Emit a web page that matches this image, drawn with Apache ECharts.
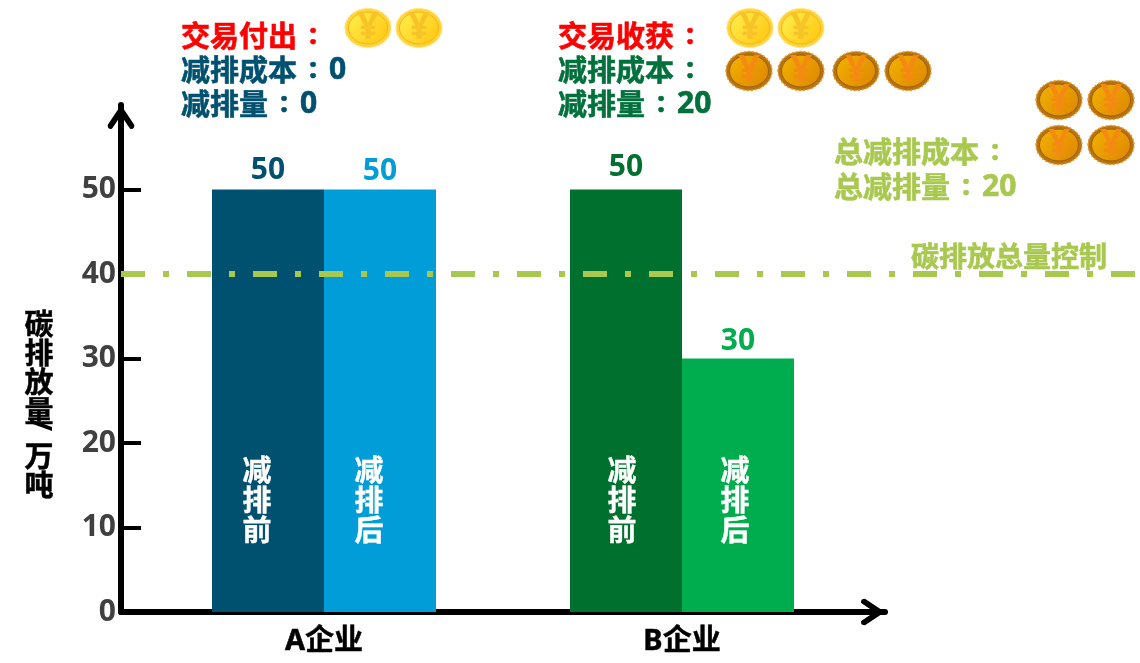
<!DOCTYPE html>
<html><head><meta charset="utf-8">
<style>html,body{margin:0;padding:0;background:#fff}#c{width:1140px;height:663px}</style>
<script src="https://cdn.jsdelivr.net/npm/echarts@6/dist/echarts.min.js"></script>
</head><body><div id="c"></div>
<script>
const companies = ['A企业', 'B企业'];
const before = [50, 50];
const after = [50, 30];
const cap = 40;
const yTicks = [0, 10, 20, 30, 40, 50];

const CJK = '"Noto Sans CJK SC",sans-serif';
const DIGIT = '"Noto Sans","Noto Sans CJK SC",sans-serif';
const C = {navy:'#00506F', sky:'#009DD9', dark:'#00702F', green:'#00AD4E', lime:'#A9C850', grey:'#404040', red:'#FF0000', darkText:'#00703C'};

const chevron = 'path://M12 0 L26 21 Q26 26 21.5 25 L12 11 L2.5 25 Q-2 26 -2 21 Z';

function line(x, y, main, digits, color) {
  const base = {fontWeight:'bold', fill:color, stroke:color, lineWidth:0.6};
  return {type:'text', x, y, z:20, style:{
    text:'{a|'+main+'}{c| : }'+(digits?'{d|'+digits+'}':''),
    rich:{a:{...base,fontFamily:CJK,fontSize:29},
          c:{...base,fontFamily:DIGIT,fontSize:29,width:32,align:'center'},
          d:{...base,fontFamily:DIGIT,fontSize:30}},
    verticalAlign:'middle', align:'left'}};
}
function vert(x, text) {
  return {type:'text', x, y:500, z:20, style:{text, fontFamily:CJK, fontWeight:'bold', fontSize:29, lineHeight:30,
    fill:'#fff', stroke:'#fff', lineWidth:0.4, align:'center', verticalAlign:'middle'}};
}
function nameText(y, text) {
  return {type:'text', x:39, y, z:20, style:{text, fontFamily:CJK, fontWeight:'bold', fontSize:29, lineHeight:29,
    fill:'#000', stroke:'#000', lineWidth:0.5, align:'center', verticalAlign:'top'}};
}
function coin(cx, cy, bronze) {
  const p = bronze
    ? {edge:'#B8720F', dots:'#E0A030', o0:'#F2B300', o1:'#DD8500', ring:'#9C5E08', sym:'#F58A12'}
    : {edge:'#FFD23C', dots:'#FFE878', o0:'#FFF050', o1:'#FFC40E', ring:'#F2B70F', sym:'#F7C428'};
  const grad = {type:'linear', x:0, y:0, x2:1, y2:1, colorStops:[{offset:0,color:p.o0},{offset:1,color:p.o1}]};
  return {type:'group', children:[
    {type:'ellipse', z:15, shape:{cx,cy,rx:23,ry:19.5}, style:{fill:p.edge, stroke:p.dots, lineWidth:1.5, lineDash:[2,2]}},
    {type:'ellipse', z:16, shape:{cx,cy,rx:19.5,ry:16}, style:{fill:grad, stroke:p.ring, lineWidth:1}},
    {type:'text', z:17, x:cx, y:cy, style:{text:'¥', fontFamily:DIGIT, fontWeight:'bold', fontSize:38, fill:p.sym, align:'center', verticalAlign:'middle'}}
  ]};
}
const goldCoins = [[368,28],[419,28],[750,28],[801,28]];
const bronzeCoins = [[749,71],[801,71],[856,71],[908,71],[1059,100],[1111,100],[1059,145],[1111,145]];

const valueLabel = {show:true, position:'top', fontFamily:DIGIT, fontWeight:'bold', fontSize:30};

const option = {
  animation:false,
  backgroundColor:'#fff',
  grid:[
    {left:145, width:716, top:105, height:507},
    {left:121, width:764, top:105, height:507},
    {left:121, width:1014, top:105, height:507}
  ],
  xAxis:[
    {gridIndex:0, type:'category', data:companies, axisLine:{show:false}, axisTick:{show:false},
     axisLabel:{fontFamily:DIGIT, fontWeight:'bold', fontSize:29, color:'#000', margin:15, textBorderColor:'#000', textBorderWidth:0.5}},
    {gridIndex:1, type:'value', min:0, max:1, axisLabel:{show:false}, axisTick:{show:false}, splitLine:{show:false},
     axisLine:{show:true, onZero:false, lineStyle:{color:'#000', width:6}, symbol:['none',chevron], symbolSize:[28,24], symbolOffset:[0,-12]}},
    {gridIndex:2, type:'value', min:0, max:1, show:false}
  ],
  yAxis:[
    {gridIndex:0, type:'value', min:0, max:60, show:false},
    {gridIndex:1, type:'value', min:0, max:60, interval:10, splitLine:{show:false},
     axisLine:{show:true, onZero:false, lineStyle:{color:'#000', width:6}, symbol:['none',chevron], symbolSize:[28,24], symbolOffset:[0,-12]},
     axisTick:{show:true, inside:true, length:20, customValues:yTicks, lineStyle:{color:'#000', width:4}},
     axisLabel:{customValues:yTicks, margin:5, fontFamily:DIGIT, fontWeight:'bold', fontSize:30, padding:[6,0,0,0],
       color:v => v === cap ? C.lime : C.grey}},
    {gridIndex:2, type:'value', min:0, max:60, show:false}
  ],
  series:[
    {name:'减排前', type:'bar', xAxisIndex:0, yAxisIndex:0, barWidth:112, barGap:'0%', label:valueLabel,
     data:[
       {value:before[0], itemStyle:{color:C.navy}, label:{color:C.navy, distance:4}},
       {value:before[1], itemStyle:{color:C.dark}, label:{color:C.dark, distance:7}}]},
    {name:'减排后', type:'bar', xAxisIndex:0, yAxisIndex:0, barWidth:112, label:valueLabel,
     data:[
       {value:after[0], itemStyle:{color:C.sky}, label:{color:C.sky, distance:3}},
       {value:after[1], itemStyle:{color:C.green}, label:{color:C.green, distance:2}}]},
    {name:'碳排放总量控制', type:'line', xAxisIndex:2, yAxisIndex:2, z:5, symbol:'none', silent:true,
     data:[[0,cap],[1,cap]],
     lineStyle:{color:C.lime, width:6, type:[24,18,6,18], cap:'butt'}}
  ],
  graphic:[
    line(181,36,'交易付出','',C.red),
    line(181,70,'减排成本','0',C.navy),
    line(181,104,'减排量','0',C.navy),
    line(558,36,'交易收获','',C.red),
    line(558,70,'减排成本','',C.darkText),
    line(558,104,'减排量','20',C.darkText),
    line(834,152,'总减排成本','',C.lime),
    line(834,187,'总减排量','20',C.lime),
    {type:'text', x:911, y:256, z:20, style:{text:'碳排放总量控制', fontFamily:CJK, fontWeight:'bold', fontSize:28, fill:C.lime, stroke:C.lime, lineWidth:0.6, verticalAlign:'middle'}},
    vert(257,'减\n排\n前'), vert(369,'减\n排\n后'), vert(622,'减\n排\n前'), vert(735,'减\n排\n后'),
    nameText(309,'碳\n排\n放\n量'), nameText(441,'万\n吨'),
    {type:'text', x:39, y:425, rotation:-Math.PI/2, z:20, style:{text:'/', fontFamily:DIGIT, fontWeight:'bold', fontSize:30, fill:'#000', align:'center', verticalAlign:'middle'}},
    ...goldCoins.map(c => coin(c[0],c[1],false)),
    ...bronzeCoins.map(c => coin(c[0],c[1],true))
  ]
};
echarts.init(document.getElementById('c')).setOption(option);
</script></body></html>
